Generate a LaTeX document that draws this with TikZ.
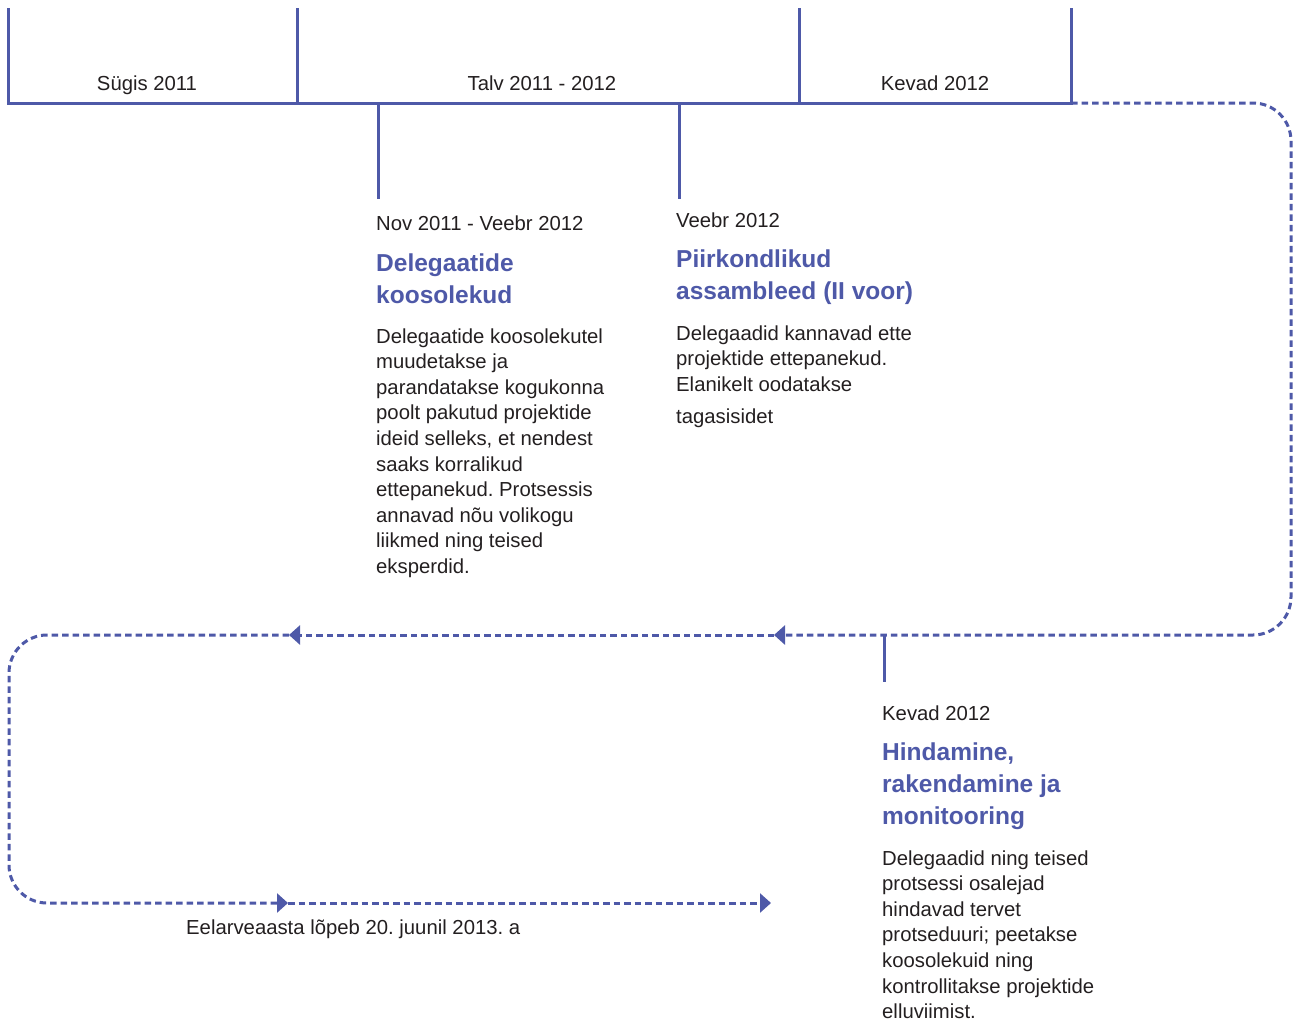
\documentclass[tikz,border=0pt]{standalone}
\usepackage{fontspec}
\setmainfont{Liberation Sans}
\usetikzlibrary{arrows.meta}
\definecolor{tlblue}{RGB}{78,89,168}
\definecolor{tltext}{RGB}{35,31,32}
\frenchspacing
\begin{document}
\begin{tikzpicture}[x=1pt,y=-1pt,
  bar/.style={draw=tlblue,line width=3pt},
  flow/.style={draw=tlblue,line width=3pt,dash pattern=on 6.5pt off 4pt},
  tip/.style={-{Triangle[length=11pt,width=19pt]}},
  lbl/.style={inner sep=0pt,anchor=base,font=\fontsize{20.3}{25.6}\selectfont,text=tltext},
  dt/.style={inner sep=0pt,anchor=base west,font=\fontsize{20.3}{25.6}\selectfont,text=tltext},
  body/.style={inner sep=0pt,anchor=north west,align=left,font=\fontsize{20.3}{25.6}\selectfont,text=tltext},
  ttl/.style={inner sep=0pt,anchor=north west,align=left,font=\fontsize{24.5}{32}\selectfont\bfseries,text=tlblue}]
\useasboundingbox (0,0) rectangle (1294,1021);
% header bar
\coordinate (b0t) at (8,8);
\coordinate (b0) at (8,103);
\coordinate (b1t) at (297,8);
\coordinate (b1) at (297,103);
\coordinate (b2t) at (799,8);
\coordinate (b2) at (799,103);
\coordinate (b3t) at (1071,8);
\coordinate (b3) at (1071,103);
\draw[bar] (b0t) -- (b0) -- (b3) -- (b3t);
\draw[bar] (b1t) -- (b1);
\draw[bar] (b2t) -- (b2);
\node[lbl] (s1) at (147,90) {Sügis 2011};
\node[lbl] (s2) at (542,90) {Talv 2011 - 2012};
\node[lbl] (s3) at (935,90) {Kevad 2012};
% ticks
\coordinate (t1a) at (378,103);
\coordinate (t1b) at (378,199);
\coordinate (t2a) at (679,103);
\coordinate (t2b) at (679,199);
\coordinate (t3a) at (884,636);
\coordinate (t3b) at (884,682);
\draw[bar] (t1a) -- (t1b);
\draw[bar] (t2a) -- (t2b);
\draw[bar] (t3a) -- (t3b);
% dotted flow
\coordinate (cTR) at (1291,103);
\coordinate (cBR) at (1291,635);
\coordinate (a1) at (774,635);
\coordinate (a2) at (289,635);
\coordinate (cL1) at (9,635);
\coordinate (cL2) at (9,903);
\coordinate (a3) at (288,903);
\coordinate (a4) at (771,903);
\draw[flow,tip,rounded corners=38pt] (b3) -- (cTR) -- (cBR) -- (a1);
\draw[flow,tip] (a1) -- (a2);
\draw[flow,tip,rounded corners=38pt] (a2) -- (cL1) -- (cL2) -- (a3);
\draw[flow,tip] (a3) -- (a4);
% block 1
\node[dt] (d1) at (376,230) {Nov 2011 - Veebr 2012};
\node[ttl] (h1) at (376,253.1) {Delegaatide\\koosolekud};
\node[body] (p1) at (376,328.2) {Delegaatide koosolekutel\\muudetakse ja\\parandatakse kogukonna\\poolt pakutud projektide\\ideid selleks, et nendest\\saaks korralikud\\ettepanekud. Protsessis\\annavad nõu volikogu\\liikmed ning teised\\eksperdid.};
% block 2
\node[dt] (d2) at (676,227) {Veebr 2012};
\node[ttl] (h2) at (676,249.1) {Piirkondlikud\\assambleed (II voor)};
\node[body] (p2) at (676,325.2) {Delegaadid kannavad ette\\projektide ettepanekud.\\Elanikelt oodatakse\\[6.4pt]tagasisidet};
% block 3
\node[dt] (d3) at (882,720) {Kevad 2012};
\node[ttl] (h3) at (882,742.1) {Hindamine,\\rakendamine ja\\monitooring};
\node[body] (p3) at (882,850.2) {Delegaadid ning teised\\protsessi osalejad\\hindavad tervet\\protseduuri; peetakse\\koosolekuid ning\\kontrollitakse projektide\\elluviimist.};
% footer
\node[dt] (f1) at (186,934) {Eelarveaasta lõpeb 20. juunil 2013. a};
\end{tikzpicture}
\end{document}
